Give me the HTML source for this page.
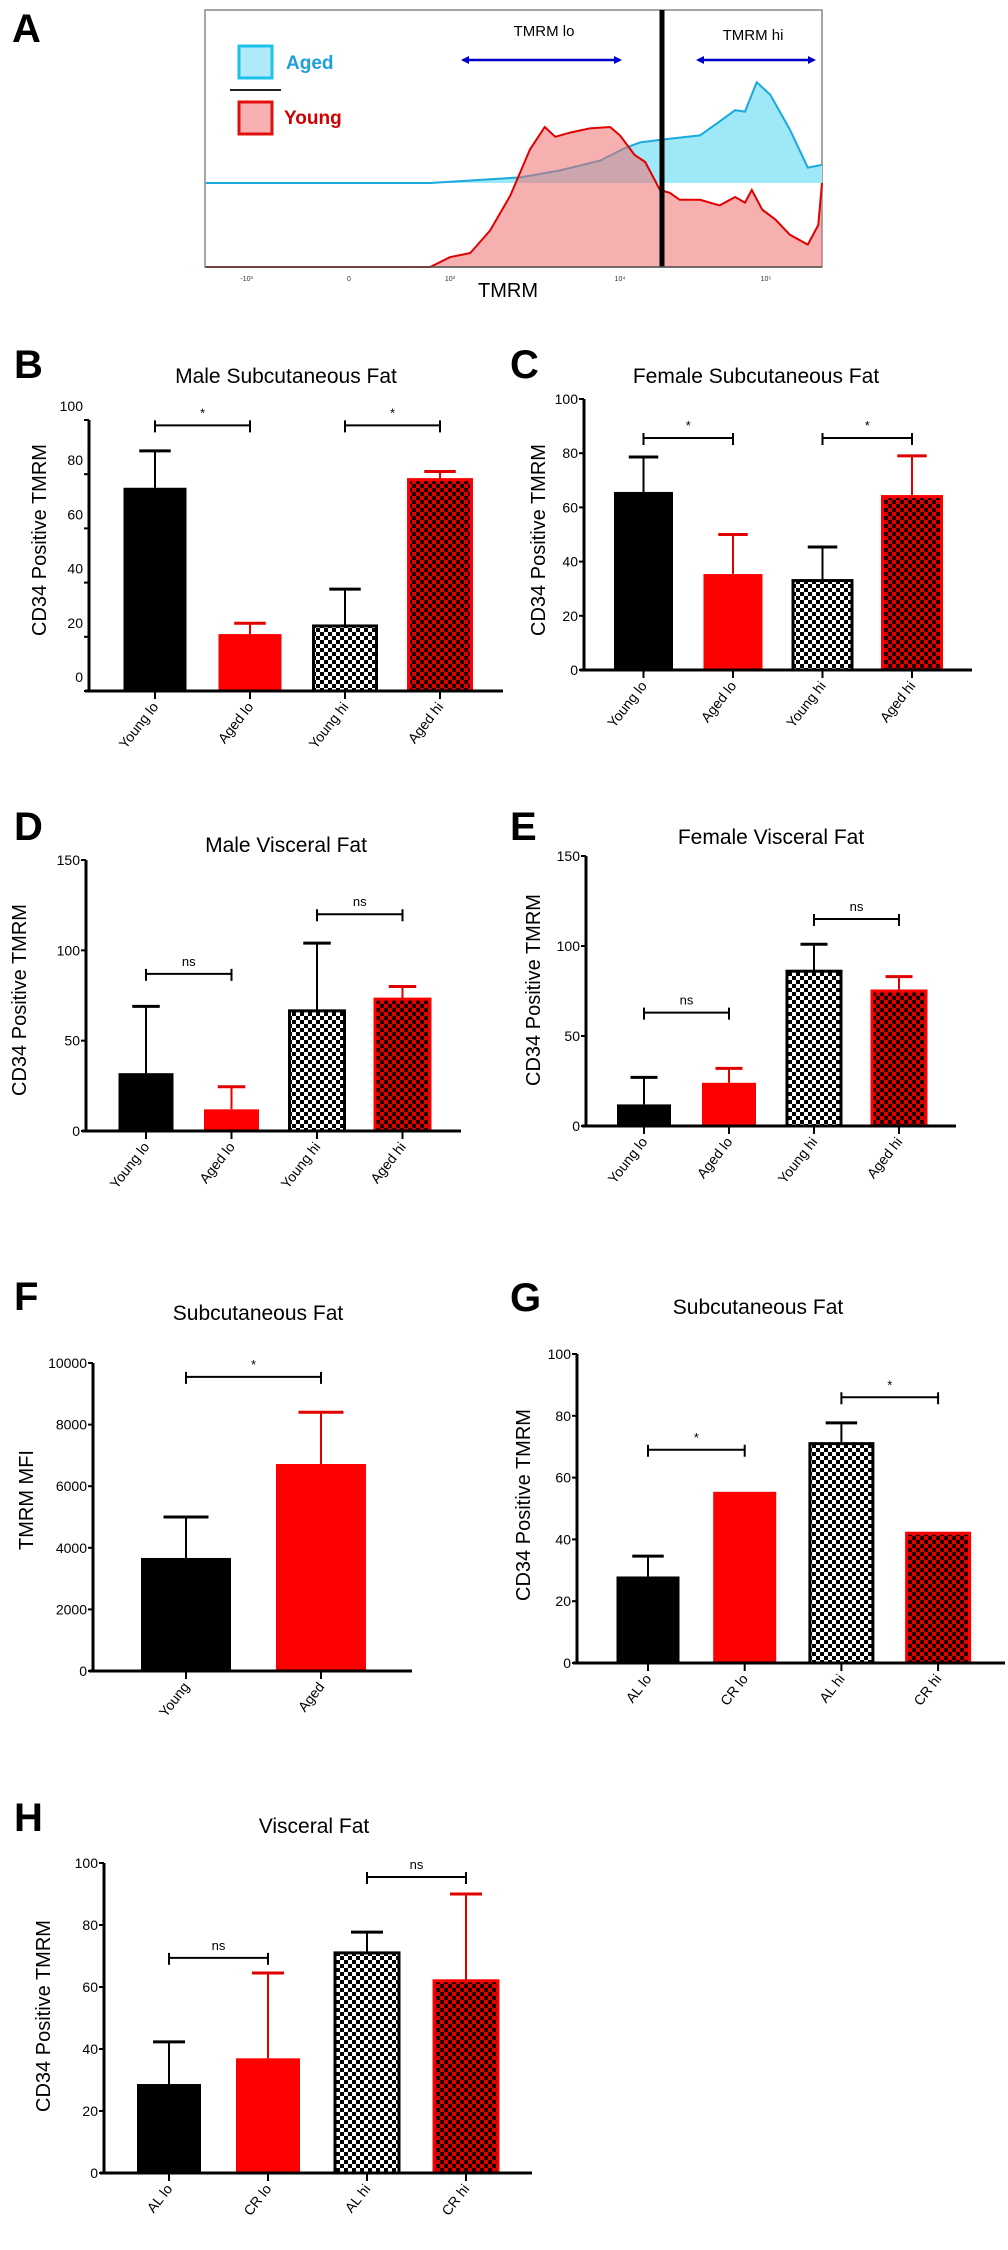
<!DOCTYPE html>
<html><head><meta charset="utf-8">
<style>
html,body{margin:0;padding:0;background:#fff;}
svg{display:block;font-family:"Liberation Sans Narrow","Liberation Sans",sans-serif;}
</style></head>
<body>
<svg id="fig" width="1008" height="2250" viewBox="0 0 1008 2250" xmlns="http://www.w3.org/2000/svg">
<defs>
<pattern id="chkBW" width="8" height="8" patternUnits="userSpaceOnUse"><rect width="8" height="8" fill="#fff"/><rect width="4" height="4" fill="#000"/><rect x="4" y="4" width="4" height="4" fill="#000"/></pattern>
<pattern id="chkRed" width="8" height="8" patternUnits="userSpaceOnUse"><rect width="8" height="8" fill="#e00000"/><rect width="4" height="4" fill="#1a0000"/><rect x="4" y="4" width="4" height="4" fill="#1a0000"/></pattern>
<marker id="ah" markerWidth="8" markerHeight="8" refX="6" refY="4" orient="auto-start-reverse" markerUnits="userSpaceOnUse"><path d="M0,0 L8,4 L0,8 z" fill="#0000cc"/></marker>
</defs>
</svg>
<script>
// ---------- Panel A histogram data (position along axis 0..1, relative count) ----------
const youngPos=[0,.364,.396,.429,.461,.494,.526,.550,.567,.591,.623,.656,.672,.696,.713,.737,.753,.769,.802,.834,.859,.875,.886,.903,.924,.948,.977,.994,1];
const youngCnt=[0,0,7,10,26,51,84,100,93,96,99,100,94,80,75,55,53,48,48,44,50,46,55,41,34,23,16,30,60];
const agedPos=[0,.364,.510,.575,.640,.680,.705,.740,.802,.834,.859,.875,.894,.916,.948,.977,1];
const agedCnt=[0,0,4,9,16,25,29,31,34,44,52,51,72,63,38,11,13];
const aTickLabels=["-10³","0","10³","10⁴","10⁵"];
const aTickPos=[.066,.232,.396,.672,.909];

// ---------- Bar chart data ----------
const bCats=["Young lo","Aged lo","Young hi","Aged hi"];
const bMeans=[75,21,24,78];
const bErrTop=[88.6,25,37.6,81];
const bTicks=[0,20,40,60,80,100];
const bSigPairs=[[0,1],[2,3]];
const bSigLevel=[98,98];
const bSigText=["*","*"];

const cCats=["Young lo","Aged lo","Young hi","Aged hi"];
const cMeans=[65.7,35.4,33,64];
const cErrTop=[78.6,50,45.4,79];
const cTicks=[0,20,40,60,80,100];
const cSigPairs=[[0,1],[2,3]];
const cSigLevel=[85.6,85.6];
const cSigText=["*","*"];

const dCats=["Young lo","Aged lo","Young hi","Aged hi"];
const dMeans=[32,12,66.5,73];
const dErrTop=[69,24.5,104,80];
const dTicks=[0,50,100,150];
const dSigPairs=[[0,1],[2,3]];
const dSigLevel=[87,120];
const dSigText=["ns","ns"];

const eCats=["Young lo","Aged lo","Young hi","Aged hi"];
const eMeans=[12,24,86,75];
const eErrTop=[27,32,101,83];
const eTicks=[0,50,100,150];
const eSigPairs=[[0,1],[2,3]];
const eSigLevel=[63,115];
const eSigText=["ns","ns"];

const fCats=["Young","Aged"];
const fMeans=[3670,6720];
const fErrTop=[5000,8400];
const fTicks=[0,2000,4000,6000,8000,10000];
const fSigPairs=[[0,1]];
const fSigLevel=[9550];
const fSigText=["*"];

const gCats=["AL lo","CR lo","AL hi","CR hi"];
const gMeans=[28,55.4,71,42];
const gErrTop=[34.6,null,77.7,null];
const gTicks=[0,20,40,60,80,100];
const gSigPairs=[[0,1],[2,3]];
const gSigLevel=[69,86];
const gSigText=["*","*"];

const hCats=["AL lo","CR lo","AL hi","CR hi"];
const hMeans=[28.7,37,71,62];
const hErrTop=[42.3,64.5,77.7,90];
const hTicks=[0,20,40,60,80,100];
const hSigPairs=[[0,1],[2,3]];
const hSigLevel=[69.4,95.5];
const hSigText=["ns","ns"];

const NS="http://www.w3.org/2000/svg";
const svg=document.getElementById('fig');
function mk(tag,attrs,parent){const e=document.createElementNS(NS,tag);for(const k in attrs)e.setAttribute(k,attrs[k]);(parent||svg).appendChild(e);return e;}

// ---------- Panel A ----------
(function(){
  const g=mk('g',{});
  
  
  const X0=206,X1=822,YB=267,YA=183,K=1.4;
  const xs=v=>X0+v*(X1-X0);
  const lab=mk('text',{x:12,y:42,'font-size':40,'font-weight':'bold','font-family':'Liberation Sans'},g);lab.textContent='A';
  
  
  const box=mk('rect',{x:205,y:10,width:617,height:257,fill:'#fff',stroke:'#888','stroke-width':1.5},g);
  
  
  // aged
  let d='M'+xs(agedPos[0])+','+YA;
  agedPos.forEach((p,i)=>{d+=' L'+xs(p).toFixed(1)+','+(YA-agedCnt[i]*K).toFixed(1);});
  const aFill=mk('path',{d:d+' L'+X1+','+YA+' Z',fill:'#9fe8f7',stroke:'none'},g);
  
  
  const aLine=mk('path',{d:d,fill:'none',stroke:'#1aa9dc','stroke-width':2},g);
  
  
  // young
  let d2='M'+xs(youngPos[0])+','+YB;
  youngPos.forEach((p,i)=>{d2+=' L'+xs(p).toFixed(1)+','+(YB-youngCnt[i]*K).toFixed(1);});
  const yFill=mk('path',{d:d2+' L'+X1+','+YB+' Z',fill:'#f07070','fill-opacity':0.55,stroke:'none'},g);
  
  
  const yLine=mk('path',{d:d2,fill:'none',stroke:'#e00000','stroke-width':2},g);
  
  
  const gate=mk('line',{x1:662,y1:10,x2:662,y2:267,stroke:'#000','stroke-width':5},g);
  
  
  const ax=mk('line',{x1:205,y1:267,x2:822,y2:267,stroke:'#555','stroke-width':1.5},g);
  
  
  aTickLabels.forEach((t,i)=>{
    const tk=mk('text',{x:xs(aTickPos[i]),y:281,'font-size':7,'text-anchor':'middle',fill:'#333'},g);tk.textContent=t;
    
    
  });
  const xt=mk('text',{x:508,y:297,'font-size':20,'text-anchor':'middle'},g);xt.textContent='TMRM';
  
  
  const lo=mk('text',{x:544,y:36,'font-size':15,'text-anchor':'middle'},g);lo.textContent='TMRM lo';
  
  
  const hi=mk('text',{x:753,y:40,'font-size':15,'text-anchor':'middle'},g);hi.textContent='TMRM hi';
  
  
  const ar1=mk('line',{x1:463,y1:60,x2:620,y2:60,stroke:'#0000cc','stroke-width':2.5,'marker-start':'url(#ah)','marker-end':'url(#ah)'},g);
  
  
  const ar2=mk('line',{x1:698,y1:60,x2:814,y2:60,stroke:'#0000cc','stroke-width':2.5,'marker-start':'url(#ah)','marker-end':'url(#ah)'},g);
  
  
  const lg1=mk('rect',{x:239,y:46,width:33,height:32,fill:'#aeeaf8',stroke:'#1ec0ee','stroke-width':3},g);
  
  
  const lt1=mk('text',{x:286,y:69,'font-size':19,'font-weight':'bold',fill:'#1ea0d8'},g);lt1.textContent='Aged';
  
  
  const lsep=mk('line',{x1:230,y1:90,x2:281,y2:90,stroke:'#222','stroke-width':2},g);
  
  
  const lg2=mk('rect',{x:239,y:102,width:33,height:32,fill:'#f8b0b0',stroke:'#e01010','stroke-width':3},g);
  
  
  const lt2=mk('text',{x:284,y:124,'font-size':19,'font-weight':'bold',fill:'#d00000'},g);lt2.textContent='Young';
  
  
})();

// ---------- Bar chart drawer ----------
const styles=['black','red','chkBW','chkRed'];
function drawBars(P,cats,means,errTop,ticks,sigPairs,sigLevel,sigText){
  const g=mk('g',{});
  
  
  const maxV=ticks[ticks.length-1];
  const ys=v=>P.y0-(v/maxV)*(P.y0-P.yTop);
  const cx=i=>P.c0+i*P.step;
  const L=mk('text',{x:14,y:0,'font-size':40,'font-weight':'bold','font-family':'Liberation Sans'},g);
  L.setAttribute('x',P.lx);L.setAttribute('y',P.ly);L.textContent=P.id.toUpperCase();
  
  
  const T=mk('text',{x:P.tx,y:P.ty,'font-size':21,'text-anchor':'middle'},g);T.textContent=P.title;
  
  
  const YL=mk('text',{x:0,y:0,'font-size':20,'text-anchor':'middle','font-family':'Liberation Sans',transform:'translate('+P.ylx+','+P.yly+') rotate(-90)'},g);
  YL.textContent=P.ylabel;
  
  
  // bars
  means.forEach((m,i)=>{
    const st=styles[i%4];const c=cx(i);const w=P.bw;const top=ys(m);
    let fill=st==='black'?'#000':st==='red'?'#ff0000':st==='chkBW'?'url(#chkBW)':'url(#chkRed)';
    const stroke=(st==='chkBW')?'#000':(st==='chkRed'?'#ff0000':'none');
    const r=mk('rect',{x:c-w/2,y:top,width:w,height:P.y0-top,fill:fill,stroke:stroke,'stroke-width':stroke==='none'?0:3},g);
    
    
    if(errTop[i]!==null){
      const col=(st==='red'||st==='chkRed')?'#e00000':'#000';
      const et=ys(errTop[i]);
      const el=mk('line',{x1:c,y1:top,x2:c,y2:et,stroke:col,'stroke-width':2},g);
      
      
      const ec=mk('line',{x1:c-w*0.25,y1:et,x2:c+w*0.25,y2:et,stroke:col,'stroke-width':3},g);
      
      
    }
    const tk=mk('line',{x1:c,y1:P.y0,x2:c,y2:P.y0+8,stroke:'#000','stroke-width':2},g);
    
    
    const tl=mk('text',{x:0,y:0,'font-size':14,'text-anchor':'end','font-family':'Liberation Sans',transform:'translate('+(c+4)+','+(P.y0+16)+') rotate(-52)'},g);
    tl.textContent=cats[i];
    
    
  });
  // axes
  const ya=mk('line',{x1:P.ax,y1:P.yTop,x2:P.ax,y2:P.y0+1,stroke:'#000','stroke-width':3},g);
  
  
  const xa=mk('line',{x1:P.ax-4,y1:P.y0,x2:P.xEnd,y2:P.y0,stroke:'#000','stroke-width':3},g);
  
  
  ticks.forEach(t=>{
    const y=ys(t);
    const tk=mk('line',{x1:P.ax-5,y1:y,x2:P.ax,y2:y,stroke:'#000','stroke-width':2},g);
    
    
    const tl=mk('text',{x:P.ax-6,y:y+5+P.tdy,'font-size':14,'text-anchor':'end'},g);
    tl.textContent=String(t);
    
    
  });
  // significance
  sigPairs.forEach((pr,k)=>{
    const x1=cx(pr[0]),x2=cx(pr[1]),y=ys(sigLevel[k]);
    const bl=mk('path',{d:'M'+x1+','+(y-5)+' V'+(y+7)+' M'+x1+','+y+' H'+x2+' M'+x2+','+(y-5)+' V'+(y+7),fill:'none',stroke:'#000','stroke-width':2},g);
    
    
    const st=mk('text',{x:(x1+x2)/2,y:y-8,'font-size':13,'text-anchor':'middle'},g);
    st.textContent=sigText[k];
    
    
  });
}

drawBars({id:'b',lx:14,ly:378,tx:286,ty:383,title:'Male Subcutaneous Fat',ylabel:'CD34 Positive TMRM',ylx:46,yly:540,ax:89,y0:691,yTop:420,xEnd:503,c0:155,step:95,bw:63,tdy:-14},
  bCats,bMeans,bErrTop,bTicks,bSigPairs,bSigLevel,bSigText);
drawBars({id:'c',lx:510,ly:378,tx:756,ty:383,title:'Female Subcutaneous Fat',ylabel:'CD34 Positive TMRM',ylx:545,yly:540,ax:584,y0:670,yTop:399,xEnd:972,c0:643.5,step:89.5,bw:59,tdy:0},
  cCats,cMeans,cErrTop,cTicks,cSigPairs,cSigLevel,cSigText);
drawBars({id:'d',lx:14,ly:840,tx:286,ty:852,title:'Male Visceral Fat',ylabel:'CD34 Positive TMRM',ylx:26,yly:1000,ax:86,y0:1131,yTop:860,xEnd:461,c0:146,step:85.5,bw:55,tdy:0},
  dCats,dMeans,dErrTop,dTicks,dSigPairs,dSigLevel,dSigText);
drawBars({id:'e',lx:510,ly:840,tx:771,ty:844,title:'Female Visceral Fat',ylabel:'CD34 Positive TMRM',ylx:540,yly:990,ax:586,y0:1126,yTop:856,xEnd:956,c0:644,step:85,bw:54,tdy:0},
  eCats,eMeans,eErrTop,eTicks,eSigPairs,eSigLevel,eSigText);
drawBars({id:'f',lx:14,ly:1310,tx:258,ty:1320,title:'Subcutaneous Fat',ylabel:'TMRM MFI',ylx:33,yly:1500,ax:93,y0:1671,yTop:1363,xEnd:412,c0:186,step:135,bw:90,tdy:0},
  fCats,fMeans,fErrTop,fTicks,fSigPairs,fSigLevel,fSigText);
drawBars({id:'g',lx:510,ly:1311,tx:758,ty:1314,title:'Subcutaneous Fat',ylabel:'CD34 Positive TMRM',ylx:530,yly:1505,ax:577,y0:1663,yTop:1354,xEnd:1005,c0:648,step:96.7,bw:63,tdy:0},
  gCats,gMeans,gErrTop,gTicks,gSigPairs,gSigLevel,gSigText);
drawBars({id:'h',lx:14,ly:1831,tx:314,ty:1833,title:'Visceral Fat',ylabel:'CD34 Positive TMRM',ylx:50,yly:2016,ax:104,y0:2173,yTop:1863,xEnd:532,c0:169,step:99,bw:64,tdy:0},
  hCats,hMeans,hErrTop,hTicks,hSigPairs,hSigLevel,hSigText);
</script>
</body></html>
